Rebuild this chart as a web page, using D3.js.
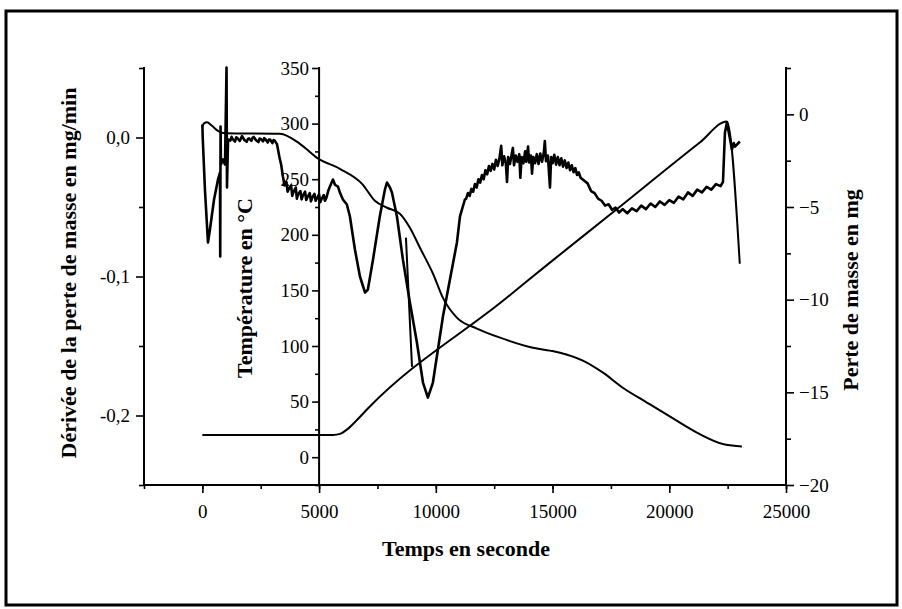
<!DOCTYPE html>
<html>
<head>
<meta charset="utf-8">
<script src="https://cdn.jsdelivr.net/npm/d3@7"></script>
<style>
  html, body { margin: 0; padding: 0; background: #fff; }
  svg { display: block; }
  text { font-family: "Liberation Serif", "Times New Roman", serif; fill: #000; }
</style>
</head>
<body>
<svg id="chart" width="902" height="609"></svg>
<script>
// ---------------- data ----------------
const timeTicks = [0, 5000, 10000, 15000, 20000, 25000];
const dtgTicks = [0.0, -0.1, -0.2];
const dtgTickLabels = ["0,0", "-0,1", "-0,2"];
const tempTicks = [0, 50, 100, 150, 200, 250, 300, 350];
const massTicks = [0, -5, -10, -15, -20];

// temperature (°C) vs time (s)
const temperature = [
  [0, 20], [5600, 20], [5900, 21], [6200, 25], [6600, 33], [7100, 44],
  [12956, 142], [14888, 175], [17453, 218], [21308, 283], [22470, 302], [23020, 174]
];

// mass loss (mg) vs time (s)
const massLoss = [
  [0, -0.67], [70, -0.49], [200, -0.43], [410, -0.62], [670, -0.89], [970, -1.02],
  [3320, -1.05], [4180, -1.59], [4910, -2.35], [5890, -2.94], [6840, -3.75],
  [7390, -4.66], [7910, -5.04], [8460, -5.36], [8890, -6.12], [9320, -7.20],
  [9880, -8.60], [10300, -9.89], [10900, -10.97], [11760, -11.56], [12750, -12.05],
  [14160, -12.59], [14890, -12.75], [15320, -12.86], [16300, -13.29], [17160, -13.94],
  [18010, -14.75], [19040, -15.55], [20160, -16.41], [21180, -17.17], [22380, -17.82],
  [23110, -17.92]
];

// derivative of mass loss (mg/min) vs time (s)
const dtg = [
  [0, 0.0094], [15, 0.0], [110, -0.0374], [240, -0.0755], [325, -0.0662], [500, -0.0446],
  [670, -0.0302], [755, -0.0252], [765, -0.0856], [780, 0.0079], [795, -0.0194],
  [880, -0.0158], [970, -0.0194], [1035, 0.0504], [1055, -0.0360], [1100, -0.0014],
  [1200, -0.0022], [1250, 0.0005], [1300, -0.0012], [1400, -0.0029], [1450, 0.0002],
  [1500, -0.0004], [1600, -0.0025], [1650, -0.0008], [1700, 0.0010], [1800, -0.0018],
  [1900, -0.0031], [1950, -0.0010], [2000, -0.0006], [2100, -0.0024], [2150, -0.0002],
  [2200, 0.0004], [2300, -0.0020], [2400, -0.0033], [2450, -0.0008], [2500, -0.0010],
  [2600, -0.0028], [2650, -0.0005], [2700, -0.0012], [2800, -0.0036], [2850, -0.0014],
  [2900, -0.0015], [3000, -0.0040], [3050, -0.0018], [3100, -0.0022], [3200, -0.0050],
  [3300, -0.0140], [3380, -0.0200], [3450, -0.0281], [3520, -0.0345],
  [3600, -0.0320], [3650, -0.0390], [3700, -0.0370], [3800, -0.0345], [3850, -0.0420],
  [3900, -0.0395], [4000, -0.0360], [4050, -0.0440], [4100, -0.0410], [4200, -0.0385],
  [4250, -0.0445], [4300, -0.0420], [4400, -0.0390], [4450, -0.0450], [4500, -0.0430],
  [4600, -0.0400], [4650, -0.0460], [4700, -0.0435], [4800, -0.0405], [4850, -0.0455],
  [4900, -0.0440], [5000, -0.0410], [5050, -0.0465], [5100, -0.0445], [5200, -0.0415],
  [5250, -0.0455], [5300, -0.0440], [5400, -0.0380], [5465, -0.0353],
  [5593, -0.0302], [5680, -0.0340], [5808, -0.0353], [5900, -0.0400], [6020, -0.0446],
  [6190, -0.0482], [6320, -0.0568], [6535, -0.0806], [6750, -0.1000], [6965, -0.1115],
  [7090, -0.1094], [7310, -0.0878], [7600, -0.0568], [7820, -0.0374], [7905, -0.0324],
  [8035, -0.0360], [8120, -0.0396], [8335, -0.0568], [8590, -0.0878], [8890, -0.1187],
  [9190, -0.1475], [9450, -0.1763], [9660, -0.1871], [9875, -0.1763], [10090, -0.1525],
  [10305, -0.1288], [10605, -0.1022], [10905, -0.0755], [11035, -0.0568], [11245, -0.0446],
  [11300, -0.0440], [11375, -0.0400], [11450, -0.0420], [11525, -0.0370], [11600, -0.0390],
  [11675, -0.0335], [11750, -0.0360], [11825, -0.0300], [11900, -0.0325], [11975, -0.0270],
  [12050, -0.0300], [12125, -0.0235], [12200, -0.0265], [12275, -0.0205], [12350, -0.0240],
  [12425, -0.0190], [12500, -0.0230], [12575, -0.0160], [12650, -0.0205], [12725, -0.0150],
  [12800, -0.0060], [12850, -0.0200], [12925, -0.0135], [13000, -0.0185], [13050, -0.0320],
  [13100, -0.0140], [13175, -0.0190], [13250, -0.0120], [13300, -0.0075], [13350, -0.0200],
  [13425, -0.0130], [13500, -0.0175], [13575, -0.0120], [13620, -0.0290], [13675, -0.0140],
  [13750, -0.0185], [13825, -0.0100], [13875, -0.0175], [13950, -0.0065], [14000, -0.0180],
  [14075, -0.0130], [14120, -0.0260], [14175, -0.0140], [14250, -0.0185], [14325, -0.0120],
  [14400, -0.0190], [14475, -0.0115], [14550, -0.0175], [14625, -0.0110], [14670, -0.0025],
  [14720, -0.0170], [14800, -0.0130], [14890, -0.0360], [14940, -0.0140], [15000, -0.0185],
  [15075, -0.0125], [15150, -0.0195], [15225, -0.0140], [15300, -0.0200], [15375, -0.0150],
  [15450, -0.0210], [15525, -0.0165], [15600, -0.0220], [15675, -0.0180], [15750, -0.0235],
  [15825, -0.0200], [15900, -0.0250], [15975, -0.0220], [16050, -0.0270], [16125, -0.0250],
  [16200, -0.0290], [16350, -0.0310], [16500, -0.0330], [16650, -0.0385],
  [16800, -0.0400], [16950, -0.0440], [17100, -0.0455], [17250, -0.0490], [17400, -0.0480],
  [17550, -0.0520], [17700, -0.0505], [17850, -0.0540], [18000, -0.0515], [18200, -0.0545],
  [18400, -0.0510], [18600, -0.0530], [18800, -0.0490], [19000, -0.0515], [19200, -0.0475],
  [19400, -0.0500], [19600, -0.0460], [19800, -0.0485], [20000, -0.0450], [20200, -0.0470],
  [20400, -0.0425], [20600, -0.0445], [20800, -0.0395], [21000, -0.0420], [21200, -0.0375],
  [21400, -0.0395], [21600, -0.0355], [21800, -0.0375], [22000, -0.0335], [22200, -0.0350],
  [22300, -0.0320], [22385, 0.0036], [22470, 0.0108], [22685, -0.0086], [22760, -0.0040],
  [22815, -0.0065], [23025, -0.0029]
];

// short separate stroke of the derivative trace
const dtgSpur = [[8720, -0.0720], [8980, -0.1650]];

// ---------------- layout ----------------
const svg = d3.select("#chart");
const X0 = 144, X1 = 786, YB = 485, YT = 68;

const x = d3.scaleLinear().domain([-2500, 25000]).range([X0, X1]);
const yDtg = d3.scaleLinear().domain([-0.25, 0.05]).range([YB, YT]);
const yTemp = d3.scaleLinear().domain([-25, 350]).range([YB, YT]);
const yMass = d3.scaleLinear().domain([-20, 2.5]).range([YB, YT]);
const xTemp = x(5000);

// outer frame
svg.append("rect").attr("x", 6).attr("y", 11).attr("width", 891).attr("height", 594)
  .attr("fill", "none").attr("stroke", "#000").attr("stroke-width", 3);

const axisStroke = 2;
function styleAxis(g) {
  g.select(".domain").remove();
  g.selectAll(".tick line").attr("stroke", "#000").attr("stroke-width", 1.6);
  g.selectAll(".tick text").attr("font-size", 19).attr("fill", "#000")
    .style("font-family", "'Liberation Serif', 'Times New Roman', serif");
}

// bottom axis
const gx = svg.append("g").attr("transform", `translate(0,${YB})`);
gx.call(d3.axisBottom(x).tickValues(d3.range(-2500, 25001, 2500)).tickSize(4).tickFormat(""));
styleAxis(gx);
const gx2 = svg.append("g").attr("transform", `translate(0,${YB})`);
gx2.call(d3.axisBottom(x).tickValues(timeTicks).tickSize(8).tickPadding(9).tickFormat(d3.format("d")));
styleAxis(gx2);
gx2.selectAll(".tick text").attr("dy", "0.85em");

// left axis (DTG)
const gl = svg.append("g").attr("transform", `translate(${X0},0)`);
gl.call(d3.axisLeft(yDtg).tickValues([0.05, -0.05, -0.15, -0.25]).tickSize(5).tickFormat(""));
styleAxis(gl);
const gl2 = svg.append("g").attr("transform", `translate(${X0},0)`);
gl2.call(d3.axisLeft(yDtg).tickValues(dtgTicks).tickSize(8).tickPadding(6)
  .tickFormat((d, i) => dtgTickLabels[i]));
styleAxis(gl2);

// temperature axis (middle)
const gt = svg.append("g").attr("transform", `translate(${xTemp},0)`);
gt.call(d3.axisLeft(yTemp).tickValues(d3.range(-25, 351, 25).filter(v => v % 50 !== 0)).tickSize(4).tickFormat(""));
styleAxis(gt);
const gt2 = svg.append("g").attr("transform", `translate(${xTemp},0)`);
gt2.call(d3.axisLeft(yTemp).tickValues(tempTicks).tickSize(7).tickPadding(3).tickFormat(d3.format("d")));
styleAxis(gt2);

// right axis (mass)
const gr = svg.append("g").attr("transform", `translate(${X1},0)`);
gr.call(d3.axisRight(yMass).tickValues([2.5, -2.5, -7.5, -12.5, -17.5]).tickSize(5).tickFormat(""));
styleAxis(gr);
const gr2 = svg.append("g").attr("transform", `translate(${X1},0)`);
gr2.call(d3.axisRight(yMass).tickValues(massTicks).tickSize(8).tickPadding(5).tickFormat(d3.format("d")));
styleAxis(gr2);

// axis lines
const axLines = [
  [X0, YB, X1, YB], [X0, yDtg(0.05), X0, YB], [xTemp, yTemp(350), xTemp, YB], [X1, yMass(2.5), X1, YB]
];
svg.append("g").selectAll("line").data(axLines).join("line")
  .attr("x1", d => d[0]).attr("y1", d => d[1]).attr("x2", d => d[2]).attr("y2", d => d[3])
  .attr("stroke", "#000").attr("stroke-width", axisStroke).attr("stroke-linecap", "square");

// curves
const lineTemp = d3.line().x(d => x(d[0])).y(d => yTemp(d[1])).curve(d3.curveMonotoneX);
const lineMass = d3.line().x(d => x(d[0])).y(d => yMass(d[1])).curve(d3.curveMonotoneX);
const lineDtg = d3.line().x(d => x(d[0])).y(d => yDtg(d[1]));

svg.append("path").datum(temperature).attr("d", lineTemp)
  .attr("fill", "none").attr("stroke", "#000").attr("stroke-width", 2);
svg.append("path").datum(massLoss).attr("d", lineMass)
  .attr("fill", "none").attr("stroke", "#000").attr("stroke-width", 2);
svg.append("path").datum(dtg).attr("d", lineDtg)
  .attr("fill", "none").attr("stroke", "#000").attr("stroke-width", 2.6).attr("stroke-linejoin", "round");
svg.append("path").datum(dtgSpur).attr("d", lineDtg)
  .attr("fill", "none").attr("stroke", "#000").attr("stroke-width", 2);

// titles
function vTitle(txt, cx, cy) {
  svg.append("text").attr("transform", `translate(${cx},${cy}) rotate(-90)`)
    .attr("text-anchor", "middle").attr("dy", "0.35em")
    .attr("font-size", 22).attr("font-weight", "bold").text(txt);
}
vTitle("Dérivée de la perte de masse en mg/min", 68, 273);
vTitle("Température en °C", 244, 288);
vTitle("Perte de masse en mg", 850, 290);
svg.append("text").attr("x", 466).attr("y", 556).attr("text-anchor", "middle")
  .attr("font-size", 22).attr("font-weight", "bold").text("Temps en seconde");
</script>
</body>
</html>
